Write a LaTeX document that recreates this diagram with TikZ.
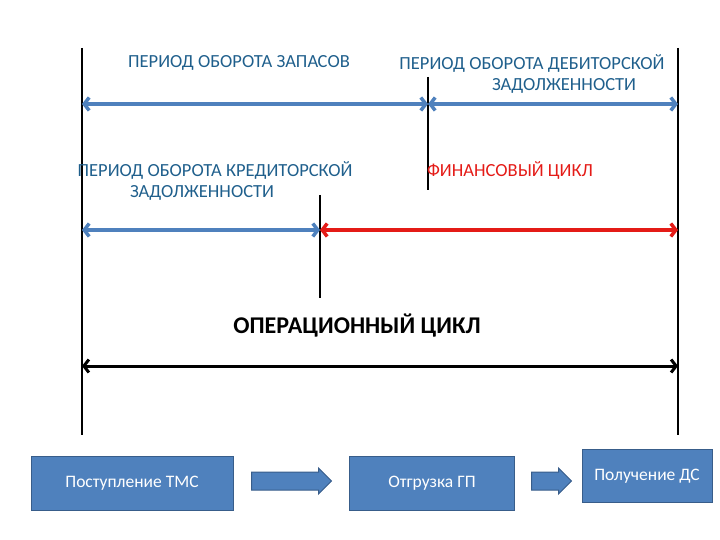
\documentclass[tikz,border=0pt]{standalone}
\usepackage{fontspec}
\setmainfont{Carlito}
\usetikzlibrary{arrows.meta,shapes.arrows}

\definecolor{lineblue}{RGB}{79,129,189}
\definecolor{textblue}{RGB}{31,95,140}
\definecolor{boxblue}{RGB}{79,129,189}
\definecolor{boxedge}{RGB}{56,93,138}
\definecolor{cyclered}{RGB}{228,27,23}

\tikzset{
	period/.style={line width=3.5pt,{Straight Barb[length=5pt,width=13pt]}-{Straight Barb[length=5pt,width=13pt]}},
	label/.style={font=\fontsize{18.5}{21}\selectfont,text=textblue,align=center,inner sep=0pt},
	stagebox/.style={draw=boxedge,fill=boxblue,line width=1pt,text=white,font=\fontsize{17.5}{20}\selectfont},
	blockarrow/.style={single arrow,draw=boxedge,fill=boxblue,line width=1pt,minimum height=80pt,inner sep=8.5pt,single arrow head extend=4pt}
}

\begin{document}
\begin{tikzpicture}[x=1pt,y=-1pt]
		\useasboundingbox (0,0) rectangle (720,540);
		% tick points
		\coordinate (ltop) at (82,48);
		\coordinate (lbot) at (82,435);
		\coordinate (rtop) at (678,48);
		\coordinate (rbot) at (678,435);
		\coordinate (mtop) at (428,77);
		\coordinate (mbot) at (428,190);
		\coordinate (ktop) at (320,195);
		\coordinate (kbot) at (320,298);
		\draw [line width=1.3pt] (ltop) to (lbot); % start
		\draw [line width=1.3pt] (rtop) to (rbot); % end
		\draw [line width=1.3pt] (mtop) to (mbot);
		\draw [line width=1.3pt] (ktop) to (kbot);
		% first row
		\coordinate (a1) at (82,104);
		\coordinate (a2) at (428,104);
		\coordinate (a3) at (678,104);
		\draw [period,lineblue] (a1) to (a2);
		\draw [period,lineblue] (a2) to (a3);
		% second row
		\coordinate (b1) at (82,230);
		\coordinate (b2) at (320,230);
		\coordinate (b3) at (678,230);
		\draw [period,lineblue] (b1) to (b2);
		\draw [period,cyclered] (b2) to (b3);
		% whole cycle
		\coordinate (c1) at (82,366);
		\coordinate (c2) at (678,366);
		\draw [period,black,line width=3pt] (c1) to (c2);
		% labels
		\node [label] (zapasy) at (239,63) {ПЕРИОД ОБОРОТА ЗАПАСОВ};
		\node [label] (debitor) at (532,74) {ПЕРИОД ОБОРОТА ДЕБИТОРСКОЙ\\\hspace*{64pt}ЗАДОЛЖЕННОСТИ};
		\node [label] (kreditor) at (215,181) {ПЕРИОД ОБОРОТА КРЕДИТОРСКОЙ\\ЗАДОЛЖЕННОСТИ\hspace*{26pt}};
		\node [label,text=cyclered] (fincycle) at (510,170) {ФИНАНСОВЫЙ ЦИКЛ};
		\node [label,text=black,font=\fontsize{24}{28}\selectfont\bfseries] (opcycle) at (357,326) {ОПЕРАЦИОННЫЙ ЦИКЛ};
		% stages
		\node [stagebox,minimum width=202pt,minimum height=54pt] (tmc) at (132,483) {Поступление ТМС};
		\node [stagebox,minimum width=165pt,minimum height=54pt] (gp) at (432,483) {Отгрузка ГП};
		\node [stagebox,minimum width=130pt,minimum height=53pt] (dc) at (647,476) {Получение ДС};
		\node [blockarrow] (arr1) at (287,481) {};
		\node [blockarrow,minimum height=40pt] (arr2) at (547,481) {};
		\end{tikzpicture}
\end{document}
